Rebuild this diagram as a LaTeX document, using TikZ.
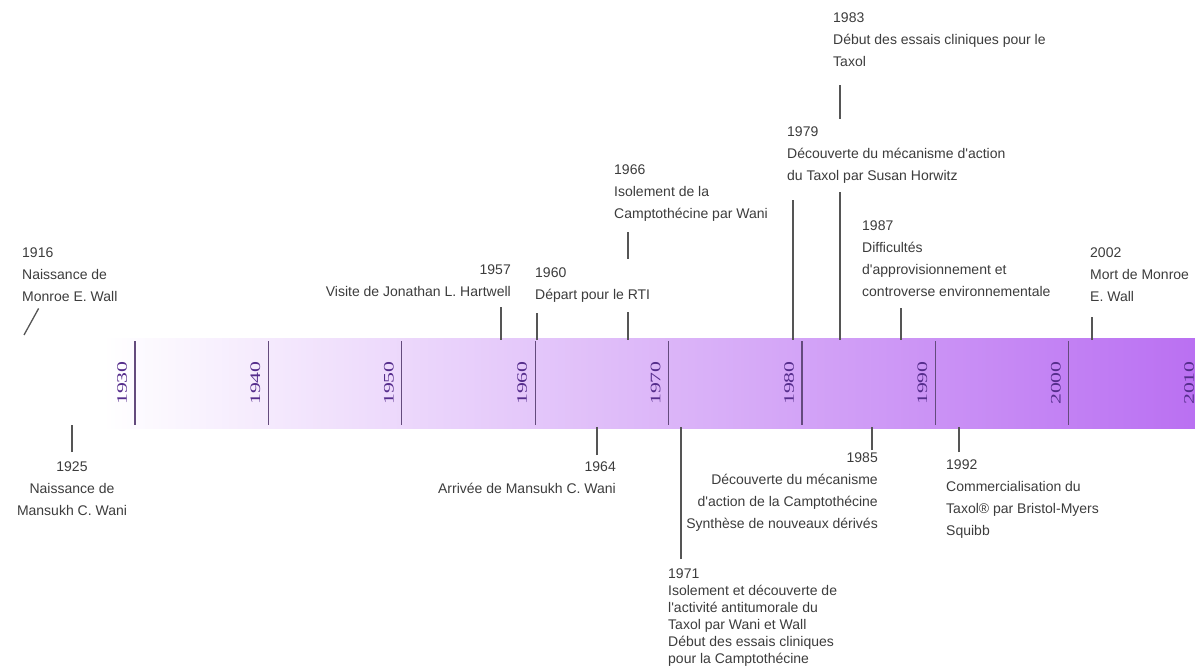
\documentclass[tikz,border=0pt]{standalone}
\usepackage{fontspec}
\usepackage{tikz}
\newfontfamily\evtfont{Liberation Sans}
\newfontfamily\decfont{Liberation Serif}
\definecolor{txtgray}{RGB}{60,60,60}
\definecolor{linegray}{RGB}{85,85,85}
\definecolor{decpurple}{RGB}{85,45,140}
\definecolor{decline}{RGB}{100,75,125}
\definecolor{bandmid}{RGB}{226,203,250}
\definecolor{bandend}{RGB}{186,112,242}

\begin{document}
\begin{tikzpicture}[x=1pt,y=-1pt]
        \tikzset{evt/.style = {font=\evtfont\fontsize{14}{22}\selectfont, text=txtgray, inner sep=0pt}}
        \tikzset{evtl/.style = {evt, anchor=north west, align=left}}
        \tikzset{evtr/.style = {evt, anchor=north east, align=right}}
        \tikzset{evtc/.style = {evt, anchor=north, align=center}}
        \tikzset{conn/.style = {draw=linegray, line width=1.3pt}}
        \tikzset{tick/.style = {draw=decline, line width=1.2pt}}
        \tikzset{decade/.style = {font=\decfont\fontsize{14.5}{14.5}\selectfont, text=decpurple, rotate=90, inner sep=0pt}}

        \useasboundingbox (0,0) rectangle (1195,671);
        \clip (0,0) rectangle (1195,671);

        % the band
        \shade[left color=white, middle color=bandmid, right color=bandend] (103,338) rectangle (1195,428);

        \coordinate (d1930) at (135, 341);
        \coordinate (d1940) at (268.4, 341);
        \coordinate (d1950) at (401.8, 341);
        \coordinate (d1960) at (535.2, 341);
        \coordinate (d1970) at (668.6, 341);
        \coordinate (d1980) at (802, 341);
        \coordinate (d1990) at (935.4, 341);
        \coordinate (d2000) at (1068.8, 341);
        \coordinate (d2010) at (1202.2, 341);

        \draw[tick] (d1930) -- ++(0,84);
        \draw[tick] (d1940) -- ++(0,84);
        \draw[tick] (d1950) -- ++(0,84);
        \draw[tick] (d1960) -- ++(0,84);
        \draw[tick] (d1970) -- ++(0,84);
        \draw[tick] (d1980) -- ++(0,84);
        \draw[tick] (d1990) -- ++(0,84);
        \draw[tick] (d2000) -- ++(0,84);
        \draw[tick] (d2010) -- ++(0,84);

        \node[decade] (l1930) at ([xshift=-13pt, yshift=-42pt]d1930) {\scalebox{1.5}[1]{1930}};
        \node[decade] (l1940) at ([xshift=-13pt, yshift=-42pt]d1940) {\scalebox{1.5}[1]{1940}};
        \node[decade] (l1950) at ([xshift=-13pt, yshift=-42pt]d1950) {\scalebox{1.5}[1]{1950}};
        \node[decade] (l1960) at ([xshift=-13pt, yshift=-42pt]d1960) {\scalebox{1.5}[1]{1960}};
        \node[decade] (l1970) at ([xshift=-13pt, yshift=-42pt]d1970) {\scalebox{1.5}[1]{1970}};
        \node[decade] (l1980) at ([xshift=-13pt, yshift=-42pt]d1980) {\scalebox{1.5}[1]{1980}};
        \node[decade] (l1990) at ([xshift=-13pt, yshift=-42pt]d1990) {\scalebox{1.5}[1]{1990}};
        \node[decade] (l2000) at ([xshift=-13pt, yshift=-42pt]d2000) {\scalebox{1.5}[1]{2000}};
        \node[decade] (l2010) at ([xshift=-13pt, yshift=-42pt]d2010) {\scalebox{1.5}[1]{2010}};

        % events above the band
        \node[evtl] (e1916) at (22, 248) {1916\\Naissance de\\Monroe E. Wall};
        \node[evtr] (e1957) at (511, 265) {1957\\Visite de Jonathan L. Hartwell};
        \node[evtl] (e1966) at (614, 165) {1966\\Isolement de la\\Camptothécine par Wani};
        \node[evtl] (e1983) at (833, 13) {1983\\Début des essais cliniques pour le\\Taxol};
        \node[evtl] (e1987) at (862, 221) {1987\\Difficultés\\d'approvisionnement et\\controverse environnementale};
        \node[evtl] (e2002) at (1090, 248) {2002\\Mort de Monroe\\E. Wall};

        \coordinate (b1916) at (24, 335);
        \coordinate (b1957) at (501, 340);
        \coordinate (b1960) at (537, 340);
        \coordinate (b1966) at (628, 340);
        \coordinate (b1979) at (793, 340);
        \coordinate (b1983) at (840, 340);
        \coordinate (b1987) at (901, 340);
        \coordinate (b2002) at (1092, 340);

        \draw[conn, shorten <=7pt] ([xshift=20pt]e1916.south west) -- (b1916);
        \draw[conn, shorten <=10pt] (b1957 |- e1957.south) -- (b1957);
        \draw[conn, shorten <=10pt] (b1966 |- e1966.south) -- (b1966);
        \draw[conn, shorten <=18pt] (b1983 |- e1983.south) -- (b1983);
        \draw[conn, shorten <=11pt] (b1987 |- e1987.south) -- (b1987);
        \draw[conn, shorten <=15pt] (b2002 |- e2002.south) -- (b2002);

        % these two hide the lines running behind them
        \node[evtl, fill=white, inner ysep=9pt] (e1960) at (535, 259) {1960\\Départ pour le RTI};
        \node[evtl, fill=white, inner ysep=8pt] (e1979) at (787, 119) {1979\\Découverte du mécanisme d'action\\du Taxol par Susan Horwitz};
        \draw[conn, shorten <=1pt] (b1960 |- e1960.south) -- (b1960);
        \draw[conn, shorten <=8pt] (b1979 |- e1979.south) -- (b1979);

        % events below the band
        \node[evtc] (e1925) at (72, 462) {1925\\Naissance de\\Mansukh C. Wani};
        \node[evtr] (e1964) at (616, 462) {1964\\Arrivée de Mansukh C. Wani};
        \node[evtl, font=\evtfont\fontsize{14}{17}\selectfont] (e1971) at (668, 569) {1971\\Isolement et découverte de\\l'activité antitumorale du\\Taxol par Wani et Wall\\Début des essais cliniques\\pour la Camptothécine};
        \node[evtr] (e1985) at (878, 453) {1985\\Découverte du mécanisme\\d'action de la Camptothécine\\Synthèse de nouveaux dérivés};
        \node[evtl] (e1992) at (946, 460) {1992\\Commercialisation du\\Taxol® par Bristol-Myers\\Squibb};

        \coordinate (b1925) at (72, 425);
        \coordinate (b1964) at (597, 427);
        \coordinate (b1971) at (681, 427);
        \coordinate (b1985) at (872, 427);
        \coordinate (b1992) at (959, 427);

        \draw[conn, shorten <=10pt] (e1925.north) -- (b1925);
        \draw[conn, shorten <=7pt] (b1964 |- e1964.north) -- (b1964);
        \draw[conn, shorten <=10pt] (b1971 |- e1971.north) -- (b1971);
        \draw[conn, shorten <=3pt] (b1985 |- e1985.north) -- (b1985);
        \draw[conn, shorten <=8pt] (b1992 |- e1992.north) -- (b1992);
\end{tikzpicture}
\end{document}
